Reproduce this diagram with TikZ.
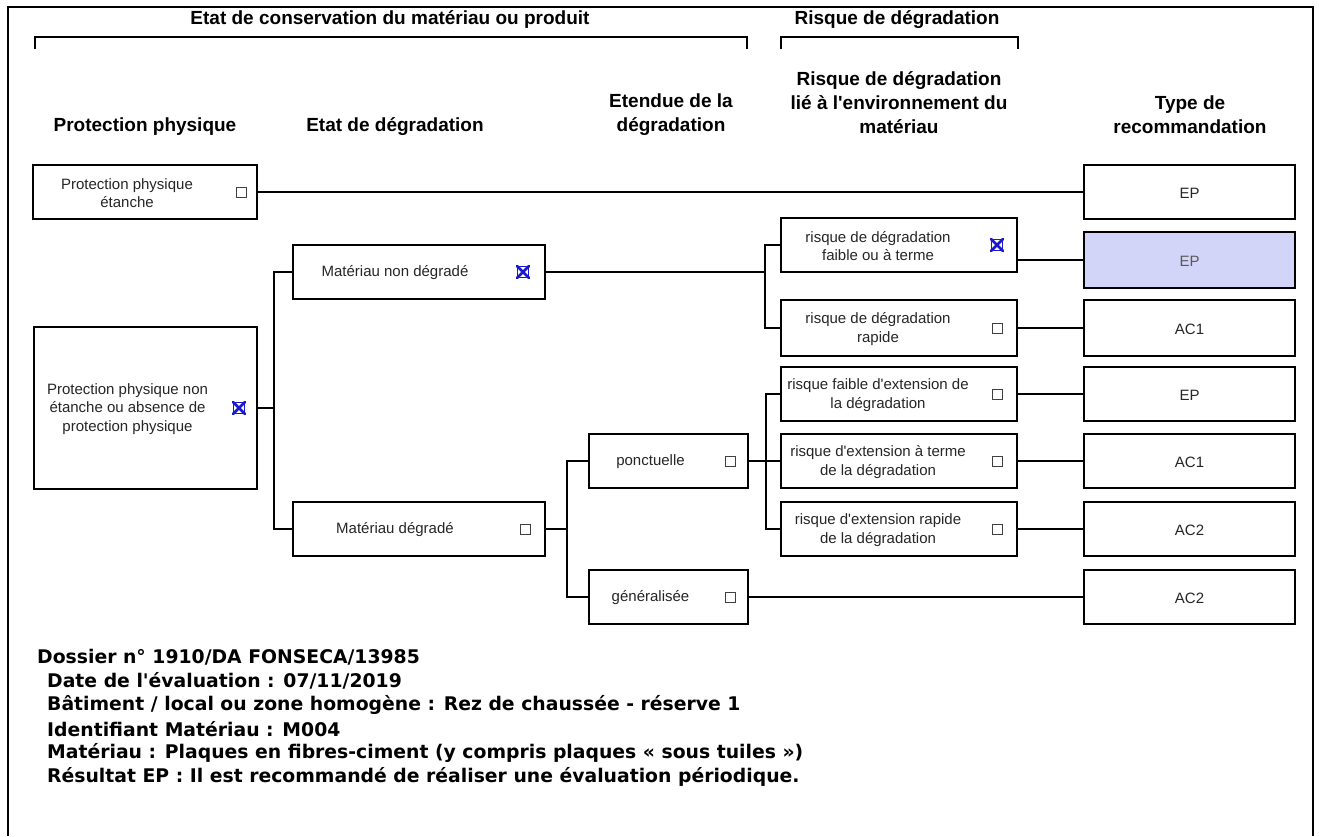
\documentclass[tikz,border=0pt]{standalone}
\usepackage{fontspec}
\setmainfont{Liberation Sans}[Ligatures=TeXOff]
\newfontfamily\verd{DejaVu Sans}
\definecolor{hl}{RGB}{210,212,248}
\definecolor{xblue}{RGB}{25,25,205}
\begin{document}
\begin{tikzpicture}[x=1pt,y=-1pt,
  box/.style={draw, line width=2pt, inner sep=0pt, fill=white},
  txt/.style={font=\fontsize{15}{18.5}\selectfont, align=center, text=black!85, inner sep=0pt, yshift=-1pt},
  hdr/.style={font=\bfseries\fontsize{19}{24}\selectfont, align=center, inner sep=0pt},
  cb/.style={draw=black!75, line width=1pt, minimum size=10pt, inner sep=0pt},
  cbx/.style={draw=xblue, line width=1pt, minimum size=11pt, inner sep=0pt},
  xmark/.style={draw=xblue, line width=2.6pt, line cap=round},
  conn/.style={line width=2pt},
  frame/.style={line width=2.4pt},
  brk/.style={line width=1.6pt},
  note/.style={font=\verd\bfseries\fontsize{18.8}{24}\selectfont, anchor=west, inner sep=0pt}
]
\useasboundingbox (0,0) rectangle (1319,836);
% outer frame
\draw[frame] (8,836) -- (8,7) -- (1313,7) -- (1313,836);

% headers
\node[hdr] (h0) at (390,20) {Etat de conservation du matériau ou produit};
\node[hdr] (h0b) at (897,20) {Risque de dégradation};
\draw[brk] (35,49) -- (35,37) -- (747,37) -- (747,49);
\draw[brk] (781,49) -- (781,37) -- (1018,37) -- (1018,49);
\node[hdr] (h1) at (145,127) {Protection physique};
\node[hdr] (h2) at (395,127) {Etat de dégradation};
\node[hdr] (h3) at (671,115) {Etendue de la\\dégradation};
\node[hdr] (h4) at (899,103) {Risque de dégradation\\lié à l'environnement du\\matériau};
\node[hdr] (h5) at (1190,115) {Type de\\recommandation};

% boxes column 1
\node[box, minimum width=224pt, minimum height=54pt] (pp1) at (145,192) {};
\node[txt] at ([xshift=-18pt]pp1.center) {Protection physique\\étanche};
\node[cb] at ([xshift=-17pt]pp1.east) {};

\node[box, minimum width=223pt, minimum height=162pt] (pp2) at (145.5,408) {};
\node[txt] at ([xshift=-18pt]pp2.center) {Protection physique non\\étanche ou absence de\\protection physique};
\node[cbx] (x1) at ([xshift=-19pt]pp2.east) {};
\draw[xmark] (x1.north west) -- (x1.south east) (x1.north east) -- (x1.south west);

% column 2
\node[box, minimum width=252pt, minimum height=54pt] (m1) at (419,272) {};
\node[txt] at ([xshift=-24pt]m1.center) {Matériau non dégradé};
\node[cbx] (x2) at ([xshift=-23pt]m1.east) {};
\draw[xmark] (x2.north west) -- (x2.south east) (x2.north east) -- (x2.south west);

\node[box, minimum width=252pt, minimum height=54pt] (m2) at (419,529) {};
\node[txt] at ([xshift=-24pt]m2.center) {Matériau dégradé};
\node[cb] at ([xshift=-21pt]m2.east) {};

% column 3
\node[box, minimum width=159pt, minimum height=54pt] (p) at (668.5,461) {};
\node[txt] at ([xshift=-18pt]p.center) {ponctuelle};
\node[cb] at ([xshift=-19pt]p.east) {};

\node[box, minimum width=159pt, minimum height=54pt] (g) at (668.5,597) {};
\node[txt] at ([xshift=-18pt]g.center) {généralisée};
\node[cb] at ([xshift=-19pt]g.east) {};

% column 4
\node[box, minimum width=236pt, minimum height=54pt] (r1) at (899,245) {};
\node[txt] at ([xshift=-21pt]r1.center) {risque de dégradation\\faible ou à terme};
\node[cbx] (x3) at ([xshift=-21pt]r1.east) {};
\draw[xmark] (x3.north west) -- (x3.south east) (x3.north east) -- (x3.south west);

\node[box, minimum width=236pt, minimum height=56pt] (r2) at (899,328) {};
\node[txt] at ([xshift=-21pt]r2.center) {risque de dégradation\\rapide};
\node[cb] at ([xshift=-21pt]r2.east) {};

\node[box, minimum width=236pt, minimum height=54pt] (r3) at (899,394) {};
\node[txt] at ([xshift=-21pt]r3.center) {risque faible d'extension de\\la dégradation};
\node[cb] at ([xshift=-21pt]r3.east) {};

\node[box, minimum width=236pt, minimum height=54pt] (r4) at (899,461) {};
\node[txt] at ([xshift=-21pt]r4.center) {risque d'extension à terme\\de la dégradation};
\node[cb] at ([xshift=-21pt]r4.east) {};

\node[box, minimum width=236pt, minimum height=54pt] (r5) at (899,529) {};
\node[txt] at ([xshift=-21pt]r5.center) {risque d'extension rapide\\de la dégradation};
\node[cb] at ([xshift=-21pt]r5.east) {};

% column 5
\node[box, minimum width=211pt, minimum height=54pt] (rec1) at (1189.5,192) {};
\node[txt] at (rec1.center) {EP};
\node[box, fill=hl, minimum width=211pt, minimum height=56pt] (rec2) at (1189.5,260) {};
\node[txt, text=black!65] at (rec2.center) {EP};
\node[box, minimum width=211pt, minimum height=56pt] (rec3) at (1189.5,328) {};
\node[txt] at (rec3.center) {AC1};
\node[box, minimum width=211pt, minimum height=54pt] (rec4) at (1189.5,394) {};
\node[txt] at (rec4.center) {EP};
\node[box, minimum width=211pt, minimum height=54pt] (rec5) at (1189.5,461) {};
\node[txt] at (rec5.center) {AC1};
\node[box, minimum width=211pt, minimum height=54pt] (rec6) at (1189.5,529) {};
\node[txt] at (rec6.center) {AC2};
\node[box, minimum width=211pt, minimum height=54pt] (rec7) at (1189.5,597) {};
\node[txt] at (rec7.center) {AC2};

% junctions
\coordinate (j1) at (274,408);
\coordinate (j2) at (765,272);
\coordinate (j3) at (766,461);
\coordinate (j4) at (567,529);

% connectors
\draw[conn] (pp1.east) -- (rec1.west);
\draw[conn] (pp2.east) -- (j1);
\draw[conn] (m1.west) -- (m1.west -| j1) -- (m2.west -| j1) -- (m2.west);
\draw[conn] (m1.east) -- (j2);
\draw[conn] (r1.west) -- (r1.west -| j2) -- (r2.west -| j2) -- (r2.west);
\draw[conn] (m2.east) -- (j4);
\draw[conn] (p.west) -- (p.west -| j4) -- (g.west -| j4) -- (g.west);
\draw[conn] (p.east) -- (r4.west);
\draw[conn] (r3.west) -- (r3.west -| j3) -- (r5.west -| j3) -- (r5.west);
\draw[conn] (rec2.west -| r1.east) -- (rec2.west);
\draw[conn] (r2.east) -- (rec3.west);
\draw[conn] (r3.east) -- (rec4.west);
\draw[conn] (r4.east) -- (rec5.west);
\draw[conn] (r5.east) -- (rec6.west);
\draw[conn] (g.east) -- (rec7.west);

% bottom notes
\node[note] (n1) at (37,657) {Dossier n° 1910/DA FONSECA/13985};
\node[note] (n2) at (47,681) {Date de l'évaluation : 07/11/2019};
\node[note] (n3) at (47,705) {Bâtiment / local ou zone homogène : Rez de chaussée - réserve 1};
\node[note] (n4) at (47,729) {Identifiant Matériau : M004};
\node[note] (n5) at (47,753) {Matériau : Plaques en fibres-ciment (y compris plaques « sous tuiles »)};
\node[note] (n6) at (47,777) {Résultat EP : Il est recommandé de réaliser une évaluation périodique.};
\end{tikzpicture}
\end{document}
